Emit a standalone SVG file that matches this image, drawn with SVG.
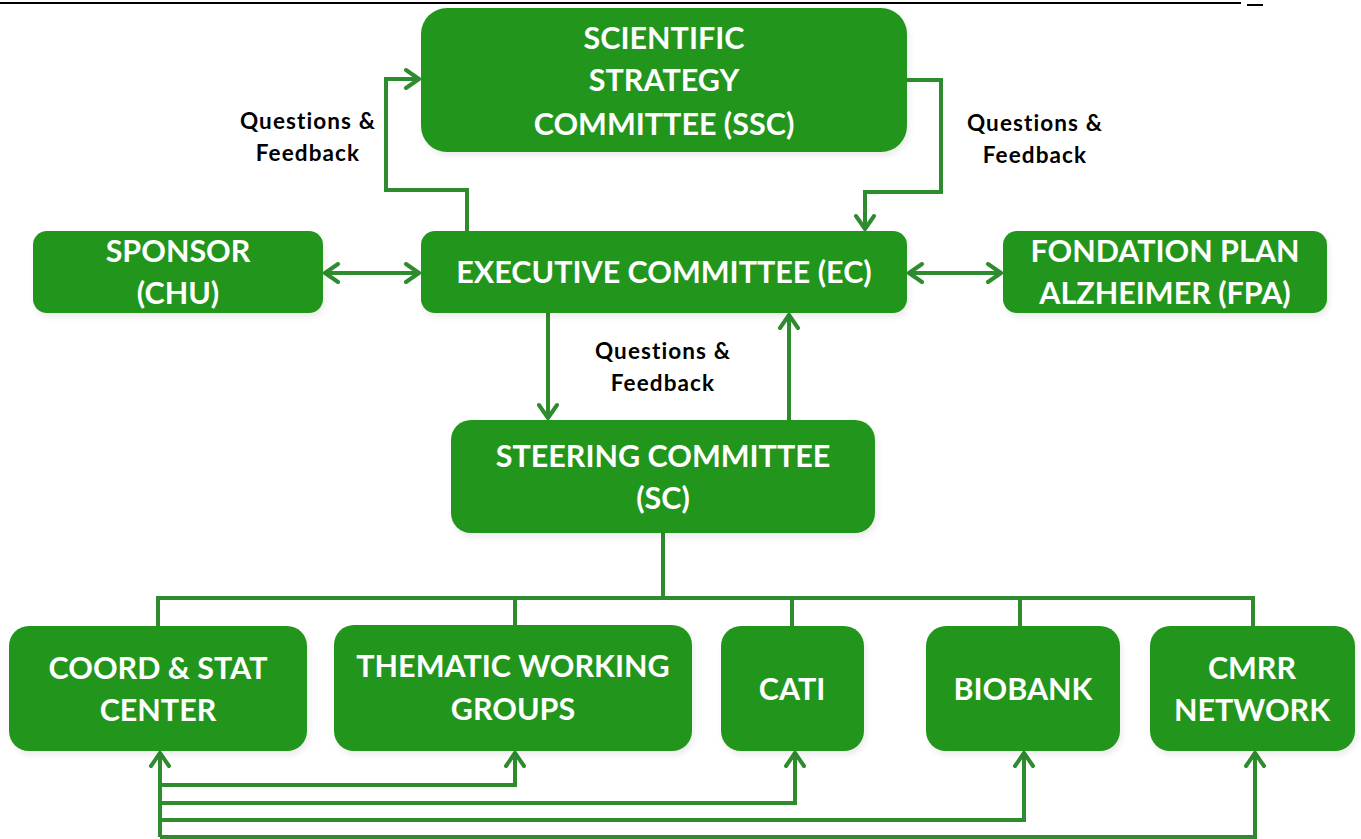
<svg xmlns="http://www.w3.org/2000/svg" width="1361" height="839" viewBox="0 0 1361 839">
  <style>
    .box { fill: #21961a; filter: url(#shadow); }
    .title { font-family: Lato, "Open Sans", "Liberation Sans", sans-serif; font-weight: bold; font-size: 30.5px; fill: #ffffff; text-anchor: middle; }
    .note { font-family: Lato, "Open Sans", "Liberation Sans", sans-serif; font-weight: bold; font-size: 22.5px; letter-spacing: 1.1px; fill: #000000; text-anchor: middle; }
    .wire { fill: none; stroke: #2e8b2e; stroke-width: 4; stroke-linejoin: miter; }
    .arrow { marker-end: url(#chevron); }
    .both { marker-start: url(#chevron); marker-end: url(#chevron); }
  </style>
  <defs>
    <filter id="shadow" x="-5%" y="-5%" width="115%" height="125%">
      <feGaussianBlur in="SourceAlpha" stdDeviation="3"/>
      <feOffset dx="2" dy="4" result="blur"/>
      <feComponentTransfer><feFuncA type="linear" slope="0.08"/></feComponentTransfer>
      <feMerge><feMergeNode/><feMergeNode in="SourceGraphic"/></feMerge>
    </filter>
    <marker id="chevron" viewBox="0 0 18 24" refX="16" refY="12" markerWidth="18" markerHeight="24" markerUnits="userSpaceOnUse" orient="auto-start-reverse">
      <path d="M3,3 L16,12 L3,21" fill="none" stroke="#2e8b2e" stroke-width="4" stroke-linecap="round" stroke-linejoin="round"/>
    </marker>
  </defs>

  <rect width="1361" height="839" fill="#ffffff"/>

  <!-- header rule -->
  <line x1="0" y1="3" x2="1241" y2="3" stroke="#000000" stroke-width="2"/>
  <line x1="1247" y1="5" x2="1263" y2="5" stroke="#000000" stroke-width="2"/>

  <!-- connectors -->
  <g id="connectors">
    <path class="wire arrow" d="M467,231 V190 H386 V79 H419"/>
    <path class="wire arrow" d="M907,80 H941 V192 H865 V229"/>
    <path class="wire both" d="M325,273 H419"/>
    <path class="wire both" d="M909,273 H1001"/>
    <path class="wire arrow" d="M548,313 V418"/>
    <path class="wire arrow" d="M789,420 V315"/>
    <path class="wire" d="M663,533 V598 M158,626 V598 H1253 V626 M515,598 V626 M792,598 V626 M1020,598 V626"/>
    <path class="wire arrow" d="M160,837 V753"/>
    <path class="wire arrow" d="M160,785 H515 V753"/>
    <path class="wire arrow" d="M160,803 H795 V753"/>
    <path class="wire arrow" d="M160,820 H1024 V753"/>
    <path class="wire arrow" d="M160,837 H1255 V753"/>
  </g>

  <!-- connector labels -->
  <g id="labels">
    <text class="note" x="308" y="129">Questions &amp;</text>
    <text class="note" x="308" y="161">Feedback</text>
    <text class="note" x="1035" y="131">Questions &amp;</text>
    <text class="note" x="1035" y="163">Feedback</text>
    <text class="note" x="663" y="359">Questions &amp;</text>
    <text class="note" x="663" y="391">Feedback</text>
  </g>

  <g id="ssc">
    <rect class="box" x="421" y="8" width="486" height="144" rx="26"/>
    <text class="title" x="664" y="49">SCIENTIFIC</text>
    <text class="title" x="664" y="91">STRATEGY</text>
    <text class="title" x="664" y="135">COMMITTEE (SSC)</text>
  </g>

  <g id="sponsor">
    <rect class="box" x="33" y="231" width="290" height="82" rx="14"/>
    <text class="title" x="178" y="262">SPONSOR</text>
    <text class="title" x="178" y="304">(CHU)</text>
  </g>

  <g id="ec">
    <rect class="box" x="421" y="231" width="486" height="82" rx="14"/>
    <text class="title" x="664" y="283">EXECUTIVE COMMITTEE (EC)</text>
  </g>

  <g id="fpa">
    <rect class="box" x="1003" y="231" width="324" height="82" rx="14"/>
    <text class="title" x="1165" y="262">FONDATION PLAN</text>
    <text class="title" x="1165" y="304">ALZHEIMER (FPA)</text>
  </g>

  <g id="sc">
    <rect class="box" x="451" y="420" width="424" height="113" rx="20"/>
    <text class="title" x="663" y="467">STEERING COMMITTEE</text>
    <text class="title" x="663" y="509">(SC)</text>
  </g>

  <g id="coord">
    <rect class="box" x="9" y="626" width="298" height="125" rx="20"/>
    <text class="title" x="158" y="679">COORD &amp; STAT</text>
    <text class="title" x="158" y="721">CENTER</text>
  </g>

  <g id="thematic">
    <rect class="box" x="334" y="625" width="358" height="126" rx="20"/>
    <text class="title" x="513" y="677">THEMATIC WORKING</text>
    <text class="title" x="513" y="720">GROUPS</text>
  </g>

  <g id="cati">
    <rect class="box" x="721" y="626" width="143" height="125" rx="20"/>
    <text class="title" x="792" y="700">CATI</text>
  </g>

  <g id="biobank">
    <rect class="box" x="926" y="626" width="194" height="125" rx="20"/>
    <text class="title" x="1023" y="700">BIOBANK</text>
  </g>

  <g id="cmrr">
    <rect class="box" x="1150" y="626" width="205" height="125" rx="20"/>
    <text class="title" x="1252" y="679">CMRR</text>
    <text class="title" x="1252" y="721">NETWORK</text>
  </g>
</svg>
